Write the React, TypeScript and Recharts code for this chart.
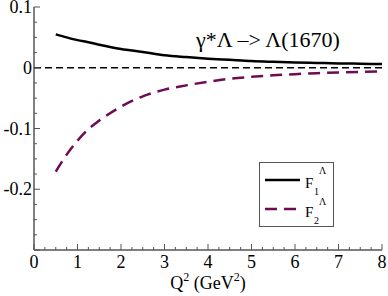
import { LineChart, Line, XAxis, YAxis, ReferenceLine } from "recharts";

// Q^2 (GeV^2) sample points and the two form factors
const Q2 = [0.5, 0.75, 1, 1.25, 1.5, 2, 2.5, 3, 3.5, 4, 4.5, 5, 5.5, 6, 6.5, 7, 7.5, 8];
const F1 = [0.055, 0.05, 0.0455, 0.042, 0.038, 0.031, 0.026, 0.0205, 0.0175, 0.015, 0.013, 0.011, 0.0098, 0.0088, 0.008, 0.0072, 0.0066, 0.006];
const F2 = [-0.171, -0.143, -0.12, -0.101, -0.087, -0.064, -0.047, -0.036, -0.029, -0.023, -0.018, -0.015, -0.0125, -0.0105, -0.009, -0.0078, -0.0068, -0.006];

const X_LABELS = [0, 1, 2, 3, 4, 5, 6, 7, 8];
const Y_LABELS = [0.1, 0, -0.1, -0.2];

const X_TICKS = Array.from({ length: 33 }, (_, i) => i / 4);
const Y_TICKS = Array.from({ length: 17 }, (_, i) => Math.round((-0.3 + i * 0.025) * 1000) / 1000);

const PURPLE = "#6E0B52";
const FONT = "'Liberation Serif', 'Times New Roman', serif";
const TICK = "#555";
const serif = { fontFamily: FONT };

const data = Q2.map((q, i) => ({ q, f1: F1[i], f2: F2[i] }));

const isMajorX = (v: number) => X_LABELS.some((l) => Math.abs(l - v) < 1e-9);
const isMajorY = (v: number) => Y_LABELS.some((l) => Math.abs(l - v) < 1e-9) || Math.abs(v + 0.3) < 1e-9;

function BottomTick({ x, y, payload }: any) {
  const v = payload.value;
  const major = isMajorX(v);
  return (
    <g>
      <line x1={x} x2={x} y1={y} y2={y - (major ? 6 : 3)} stroke={TICK} />
      {major && (
        <text x={x} y={y + 18} textAnchor="middle" fontSize={18} style={serif} fill="#000">
          {v}
        </text>
      )}
    </g>
  );
}

function TopTick({ x, y, payload }: any) {
  const major = isMajorX(payload.value);
  return <line x1={x} x2={x} y1={y} y2={y + (major ? 6 : 3)} stroke={TICK} />;
}

function LeftTick({ x, y, payload }: any) {
  const v = payload.value;
  const major = isMajorY(v);
  const labelled = Y_LABELS.some((l) => Math.abs(l - v) < 1e-9);
  return (
    <g>
      <line x1={x} x2={x + (major ? 6 : 3)} y1={y} y2={y} stroke={TICK} />
      {labelled && (
        <text x={x - 2} y={y + 6} textAnchor="end" fontSize={18} style={serif} fill="#000">
          {Math.abs(v) < 1e-9 ? "0" : v.toFixed(1)}
        </text>
      )}
    </g>
  );
}

function RightTick({ x, y, payload }: any) {
  const major = isMajorY(payload.value);
  return <line x1={x} x2={x - (major ? 6 : 3)} y1={y} y2={y} stroke={TICK} />;
}

export default function App() {
  return (
    <div style={{ position: "absolute", left: 0, top: 0, width: 388, height: 296, background: "#fff" }}>
      <LineChart width={388} height={296} data={data} margin={{ top: 7, right: 6, bottom: 0, left: 0 }}>
        <XAxis
          dataKey="q"
          type="number"
          domain={[0, 8]}
          ticks={X_TICKS}
          interval={0}
          height={46}
          tickSize={0}
          tickMargin={0}
          tickLine={false}
          axisLine={{ stroke: "#000" }}
          tick={<BottomTick />}
        />
        <XAxis
          xAxisId="top"
          orientation="top"
          dataKey="q"
          type="number"
          domain={[0, 8]}
          ticks={X_TICKS}
          interval={0}
          height={0}
          tickSize={0}
          tickMargin={0}
          tickLine={false}
          axisLine={{ stroke: "#000" }}
          tick={<TopTick />}
        />
        <YAxis
          type="number"
          domain={[-0.3, 0.1]}
          ticks={Y_TICKS}
          interval={0}
          width={34}
          tickSize={0}
          tickMargin={0}
          tickLine={false}
          axisLine={{ stroke: "#000" }}
          tick={<LeftTick />}
        />
        <YAxis
          yAxisId="right"
          orientation="right"
          type="number"
          domain={[-0.3, 0.1]}
          ticks={Y_TICKS}
          interval={0}
          width={0}
          tickSize={0}
          tickMargin={0}
          tickLine={false}
          axisLine={{ stroke: "#000" }}
          tick={<RightTick />}
        />
        <ReferenceLine y={0} stroke="#000" strokeWidth={1.5} strokeDasharray="7 4" />
        <Line
          dataKey="f1"
          type="monotone"
          stroke="#000"
          strokeWidth={2.5}
          dot={false}
          isAnimationActive={false}
        />
        <Line
          dataKey="f2"
          type="monotone"
          stroke={PURPLE}
          strokeWidth={2.5}
          strokeDasharray="12 7"
          dot={false}
          isAnimationActive={false}
        />
      </LineChart>
      <svg
        width={388}
        height={296}
        style={{ position: "absolute", left: 0, top: 0, pointerEvents: "none", fontFamily: FONT }}
      >
        <text x={196} y={47} fontSize={22} fill="#000" style={serif}>
          γ*Λ –&gt; Λ(1670)
        </text>
        <text x={208} y={289} fontSize={18} textAnchor="middle" fill="#000" style={serif}>
          Q<tspan dy={-8} fontSize={12}>2</tspan>
          <tspan dy={8}> (GeV</tspan>
          <tspan dy={-8} fontSize={12}>2</tspan>
          <tspan dy={8}>)</tspan>
        </text>
        <rect x={259.5} y={162.5} width={74} height={64} fill="#fff" stroke="#555" />
        <line x1={265} x2={300} y1={180} y2={180} stroke="#000" strokeWidth={2.5} />
        <text x={305} y={188} fontSize={15} fill="#000" style={serif}>F</text>
        <text x={314} y={195} fontSize={10} fill="#000" style={serif}>1</text>
        <text x={319} y={174} fontSize={10} fill="#000" style={serif}>Λ</text>
        <line x1={265} x2={300} y1={209} y2={209} stroke={PURPLE} strokeWidth={2.5} strokeDasharray="12 7" />
        <text x={305} y={217} fontSize={15} fill="#000" style={serif}>F</text>
        <text x={314} y={224} fontSize={10} fill="#000" style={serif}>2</text>
        <text x={319} y={205} fontSize={10} fill="#000" style={serif}>Λ</text>
      </svg>
    </div>
  );
}
